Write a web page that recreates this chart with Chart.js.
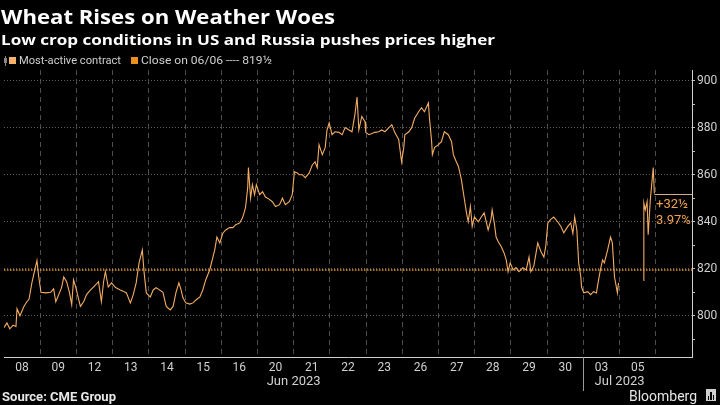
<!DOCTYPE html>
<html>
<head>
<meta charset="utf-8">
<script src="https://cdn.jsdelivr.net/npm/chart.js@4.4.0/dist/chart.umd.min.js"></script>
<style>
  html, body { margin: 0; padding: 0; background: #000; }
  canvas { display: block; }
</style>
</head>
<body>
<canvas id="c" width="720" height="405"></canvas>
<script>
// ---------- DATA ----------
const dayLabels = ['08','09','12','13','14','15','16','20','21','22','23','26','27','28','29','30','03','05'];
const monthLabels = ['Jun 2023', 'Jul 2023'];
const monthStart = [0, 16];
const monthEnd = [16, 18];

// time in trading-day slots since start of 08 Jun session
const priceT = [
  0.00,0.08,0.16,0.25,0.33,0.36,0.44,0.55,0.63,0.69,0.77,0.85,0.91,0.96,1.02,1.15,1.29,1.37,1.43,1.59,
  1.65,1.73,1.81,1.87,1.92,1.98,2.03,2.11,2.20,2.28,2.39,2.47,2.61,2.69,2.75,2.80,2.88,2.97,3.08,3.21,
  3.29,3.38,3.49,3.57,3.65,3.73,3.82,3.87,3.93,4.04,4.12,4.20,4.39,4.48,4.59,4.67,4.75,4.83,4.89,4.94,
  5.02,5.13,5.22,5.30,5.41,5.49,5.57,5.68,5.77,5.82,5.88,5.96,6.04,6.12,6.23,6.32,6.40,6.51,6.59,6.67,
  6.73,6.75,6.81,6.86,6.92,6.97,7.06,7.14,7.22,7.33,7.41,7.50,7.61,7.69,7.77,7.88,7.96,8.02,8.10,8.15,
  8.24,8.32,8.43,8.51,8.59,8.65,8.70,8.79,8.87,8.92,8.98,9.06,9.14,9.25,9.34,9.42,9.53,9.61,9.69,9.75,
  9.80,9.88,9.97,9.99,10.08,10.16,10.24,10.35,10.43,10.52,10.63,10.71,10.79,10.90,10.98,11.04,11.07,11.18,11.26,11.34,
  11.45,11.53,11.61,11.72,11.75,11.81,11.83,11.89,12.00,12.08,12.16,12.27,12.36,12.41,12.49,12.55,12.63,12.71,12.77,12.82,
  12.88,12.93,12.99,13.10,13.18,13.26,13.37,13.45,13.48,13.54,13.59,13.65,13.73,13.81,13.87,13.92,13.98,14.06,14.14,14.22,
  14.33,14.42,14.50,14.55,14.63,14.74,14.83,14.91,14.96,15.02,15.10,15.18,15.29,15.38,15.46,15.57,15.65,15.71,15.76,15.82,
  15.87,15.93,15.95,16.01,16.12,16.20,16.28,16.36,16.42,16.47,16.53,16.58,16.67,16.75,16.80,16.86,16.94,16.97,
  17.30,
  17.66,17.67,17.71,17.76,17.79,17.85,17.90,17.93,17.96
];
const priceV = [
  795,797,794.5,796,795.5,803,800,804,806,807,814,819.5,823.5,816.5,810,809.75,810,811.5,806,812,
  816.5,814.5,809.75,804.75,815.25,812.25,809,804,806,809,811,812.25,814.5,806,814.5,818.75,812.25,814,812,811,
  810.5,809.75,805.5,809,814,822.5,828,818.25,809.75,808,811,812,810,804,802.5,804,810,814,811,807.75,
  805.5,805,805.5,806.75,808,811,815.25,819.5,825,828,833.5,831,835,836.5,837.5,837.5,838.75,839.5,841.75,846,
  854.5,863,850,855.75,851.5,855.75,851.5,852.75,850.5,849.5,848.5,846.5,847.25,850,847.25,848.5,851.5,861.25,860.75,860,
  860,858.75,860.75,864,865.5,863,872.75,868.5,871.5,879,882,877,878.25,878,877,880,879,878.25,885.5,893,
  879,884.75,882.5,878,877,877.5,878,878.25,879,878.25,880,881.25,878,875,865.5,871.5,877,878.25,880,884,
  886.75,888.5,886.75,890.5,884,874,868.5,871.5,872.75,874,878.25,877,874,868.5,865.5,863.5,858,850,844,840,
  846.5,838,842,840,842,843.75,836.5,841,845,839.5,833.5,831.5,829.5,826.75,823.75,818.75,822.5,819.5,820.5,818.75,
  820.5,819.5,825,818.75,821,831,827.25,825,829.5,839.5,841,842,840,838,835.25,838,839.5,835,842,836.5,
  822.5,816.5,812.25,809.75,810.25,809,810.25,809.75,815.25,819.5,823.75,822.5,828,833.5,831,816.5,809.75,814,
  null,
  815,848,845,848.5,834.5,849.5,858,863,852
];

const prevClose = 819.5;      // close on 06/06
const lastClose = 852;
const changeText = '+32\u00BD';
const pctText = '3.97%';
const yMin = 782.5, yMax = 904.5;
const yTickValues = [790,800,810,820,830,840,850,860,870,880,890,900];

// ---------- CHART ----------
const priceData = priceT.map((t, i) => ({ x: t, y: priceV[i] }));
const refData = [{ x: 0, y: prevClose }, { x: 19, y: prevClose }];

const FONT_UI = 'Roboto, "Liberation Sans", sans-serif';

function fitText(c, text, x, y, targetW) {
  const w = c.measureText(text).width;
  c.save();
  c.translate(x, y);
  c.scale(targetW / w, 1);
  c.fillText(text, 0, 0);
  c.restore();
}

const decor = {
  id: 'decor',
  beforeDraw(chart) {
    const c = chart.ctx;
    c.save();
    c.fillStyle = '#000';
    c.fillRect(0, 0, chart.width, chart.height);
    c.restore();
  },
  afterDraw(chart) {
    const c = chart.ctx;
    const xs = chart.scales.x, ys = chart.scales.y;
    const area = chart.chartArea;
    c.save();
    // Titles
    c.fillStyle = '#fff';
    c.textBaseline = 'alphabetic';
    c.textAlign = 'left';
    c.font = 'bold 20px "Open Sans", sans-serif';
    fitText(c, 'Wheat Rises on Weather Woes', 1, 24, 334);
    c.font = 'bold 15px "Open Sans", sans-serif';
    fitText(c, 'Low crop conditions in US and Russia pushes prices higher', 1, 45, 494);

    // Legend
    const ly = 61;
    c.strokeStyle = '#888'; c.lineWidth = 1;
    c.beginPath(); c.moveTo(5.5, ly - 5); c.lineTo(5.5, ly + 5); c.stroke();
    c.fillStyle = '#888'; c.fillRect(4, ly - 3, 3, 5);
    c.fillStyle = '#f5b26b'; c.fillRect(9, ly - 4, 7, 7);
    c.font = '11px ' + FONT_UI;
    c.fillStyle = '#cfcfcf';
    c.textBaseline = 'middle';
    fitText(c, 'Most-active contract', 19, ly, 102);
    c.fillStyle = '#e8921e'; c.fillRect(131, ly - 4, 7, 7);
    c.fillStyle = '#cfcfcf';
    fitText(c, 'Close on 06/06 ---- 819\u00BD', 141, ly, 131);

    // Month labels and separator
    c.font = '13px ' + FONT_UI;
    c.fillStyle = '#d0d0d0';
    c.textAlign = 'center';
    c.textBaseline = 'alphabetic';
    for (let i = 0; i < monthLabels.length; i++) {
      const mx = (xs.getPixelForValue(monthStart[i]) + xs.getPixelForValue(monthEnd[i])) / 2;
      c.fillText(monthLabels[i], mx, 385);
    }
    const sx = Math.round(xs.getPixelForValue(monthStart[1])) + 0.5;
    c.strokeStyle = '#9a9a9a';
    c.beginPath(); c.moveTo(sx, area.bottom); c.lineTo(sx, 391); c.stroke();

    // Last price annotation
    const lastIdx = priceV.length - 1;
    const lx = xs.getPixelForValue(priceT[lastIdx]);
    const lyp = Math.round(ys.getPixelForValue(lastClose)) + 0.5;
    c.strokeStyle = '#cfae88';
    c.lineWidth = 1;
    c.beginPath(); c.moveTo(lx, lyp); c.lineTo(area.right, lyp); c.stroke();
    c.fillStyle = '#eea24f';
    c.font = '13px ' + FONT_UI;
    c.textAlign = 'left';
    c.textBaseline = 'middle';
    c.fillText(changeText, 656, lyp + 10);
    c.fillText(pctText, 656, lyp + 26);

    // Footer
    c.textBaseline = 'alphabetic';
    c.fillStyle = '#e6e6e6';
    c.font = 'bold 12px ' + FONT_UI;
    fitText(c, 'Source: CME Group', 2, 401, 114);
    c.font = '14px ' + FONT_UI;
    fitText(c, 'Bloomberg', 629, 401, 68);
    // small logo
    c.fillStyle = '#cfcfcf';
    c.fillRect(706, 389, 10, 12);
    c.fillStyle = '#000';
    c.fillRect(708, 396, 1, 4); c.fillRect(710, 392, 2, 8); c.fillRect(713, 395, 1, 5);
    c.restore();
  }
};

new Chart(document.getElementById('c'), {
  type: 'line',
  data: {
    datasets: [
      {
        data: priceData,
        borderColor: '#f3ad63',
        borderWidth: 1.1,
        pointRadius: 0,
        tension: 0,
        spanGaps: false,
        order: 1
      },
      {
        data: refData,
        borderColor: '#e8921e',
        borderWidth: 1.6,
        borderDash: [1.5, 1.5],
        pointRadius: 0,
        order: 2
      }
    ]
  },
  options: {
    responsive: false,
    animation: false,
    events: [],
    layout: { padding: { top: 70, left: 0, right: 0, bottom: 0 } },
    plugins: { legend: { display: false }, tooltip: { enabled: false } },
    scales: {
      x: {
        type: 'linear',
        min: 0,
        max: 19,
        afterFit(s) { s.height = 48; },
        afterBuildTicks(s) {
          const t = [];
          for (let i = 0; i <= 19; i++) t.push({ value: i });
          for (let i = 0; i < dayLabels.length; i++) t.push({ value: i + 0.5 });
          t.sort((a, b) => a.value - b.value);
          s.ticks = t;
        },
        grid: {
          color: (ctx) => {
            const v = ctx.tick ? ctx.tick.value : 0;
            return (Number.isInteger(v) && v > 0 && v < 19) ? '#4d4d4d' : 'transparent';
          },
          lineWidth: 1,
          drawTicks: false
        },
        border: { display: true, color: '#cfcfcf', width: 1, dash: [5, 4] },
        ticks: {
          autoSkip: false,
          maxRotation: 0,
          padding: 4,
          color: '#d0d0d0',
          font: { size: 12, family: FONT_UI },
          callback: (v) => Number.isInteger(v) ? '' : dayLabels[Math.floor(v)]
        }
      },
      y: {
        position: 'right',
        min: yMin,
        max: yMax,
        afterFit(s) { s.width = 28; },
        afterBuildTicks(s) { s.ticks = yTickValues.map(v => ({ value: v })); },
        grid: {
          color: (ctx) => (ctx.tick && ctx.tick.value % 20 === 0) ? '#5e5e5e' : 'transparent',
          tickColor: '#bdbdbd',
          tickBorderDash: [],
          tickLength: 3,
          drawTicks: true
        },
        border: { display: true, color: '#cfcfcf', width: 1, dash: [1, 2] },
        ticks: {
          autoSkip: false,
          padding: 2,
          color: '#d0d0d0',
          font: { size: 12, family: FONT_UI },
          callback: (v) => v % 20 === 0 ? String(v) : ''
        }
      }
    }
  },
  plugins: [decor]
});
</script>
</body>
</html>
